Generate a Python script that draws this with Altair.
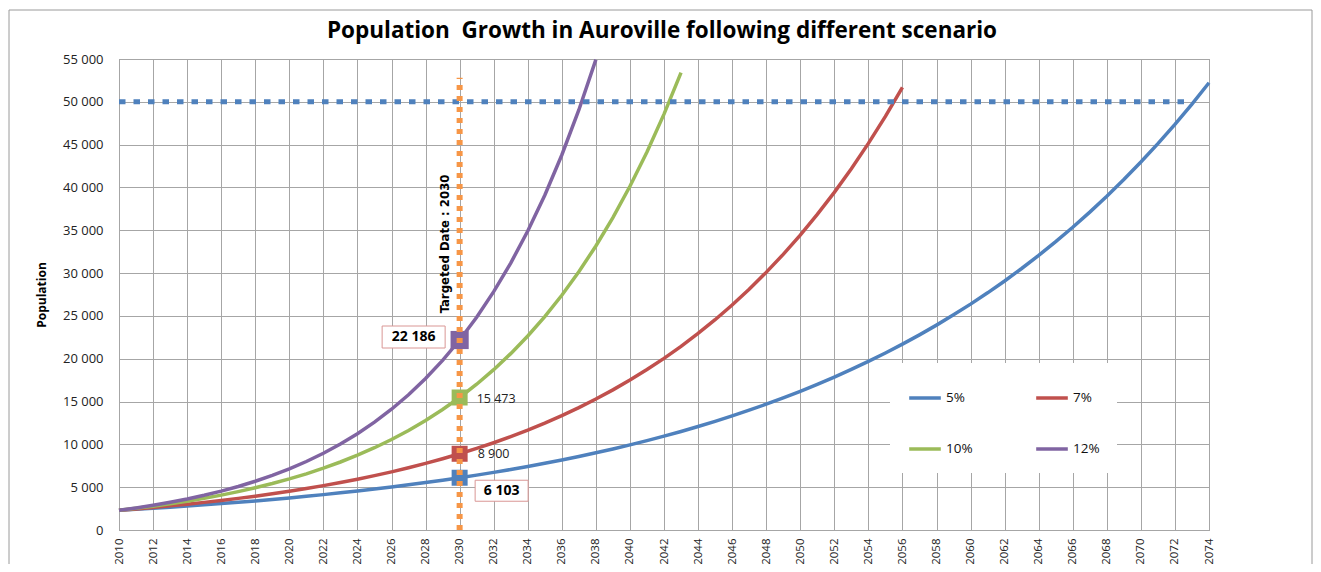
import altair as alt
import pandas as pd

# ---------------- data ----------------
series_names = ["5%", "7%", "10%", "12%"]
series_colors = ["#4F81BD", "#C0504D", "#9BBB59", "#8064A2"]
legend_order = ["5%", "10%", "7%", "12%"]  # column-major fill -> rows 5%/7%, 10%/12%

years_5 = list(range(2010, 2075))
pop_5 = [2300, 2415, 2536, 2663, 2796, 2935, 3082, 3236, 3398, 3568,
         3746, 3934, 4130, 4337, 4554, 4781, 5021, 5272, 5535, 5812,
         6103, 6408, 6728, 7065, 7418, 7789, 8178, 8587, 9017, 9468,
         9941, 10438, 10960, 11508, 12084, 12688, 13322, 13988, 14688, 15422,
         16193, 17003, 17853, 18746, 19683, 20667, 21701, 22786, 23925, 25121,
         26377, 27696, 29081, 30535, 32062, 33665, 35348, 37116, 38971, 40920,
         42966, 45114, 47370, 49739, 52226]

years_7 = list(range(2010, 2057))
pop_7 = [2300, 2461, 2633, 2818, 3015, 3226, 3452, 3693, 3952, 4228,
         4524, 4841, 5180, 5542, 5930, 6346, 6790, 7265, 7774, 8318,
         8900, 9523, 10190, 10903, 11666, 12483, 13357, 14292, 15292, 16362,
         17508, 18733, 20045, 21448, 22949, 24555, 26274, 28113, 30081, 32187,
         34440, 36851, 39430, 42190, 45144, 48304, 51685]

years_10 = list(range(2010, 2044))
pop_10 = [2300, 2530, 2783, 3061, 3367, 3704, 4075, 4482, 4930, 5423,
          5966, 6562, 7219, 7941, 8735, 9608, 10569, 11626, 12789, 14068,
          15473, 17021, 18723, 20595, 22655, 24920, 27412, 30153, 33169, 36486,
          40134, 44148, 48563, 53419]

years_12 = list(range(2010, 2039))
pop_12 = [2300, 2576, 2885, 3231, 3619, 4053, 4540, 5085, 5695, 6378,
          7143, 8001, 8961, 10036, 11240, 12589, 14100, 15792, 17687, 19810,
          22186, 24849, 27831, 31170, 34911, 39100, 43792, 49047, 54933]

target_year = 2030
target_pop = 50000
target_line_start_year = 2010
target_line_end_year = 2073
target_line_top = 52800
target_label = "Targeted Date : 2030"
target_label_pop = 33400

x_ticks = list(range(2010, 2075, 2))
y_ticks = list(range(0, 55001, 5000))

title_text = "Population\u00a0 Growth in Auroville following different scenario"

# ---------------- tables ----------------
rows = []
for name, ys, ps in [("5%", years_5, pop_5), ("7%", years_7, pop_7),
                     ("10%", years_10, pop_10), ("12%", years_12, pop_12)]:
    for yr, p in zip(ys, ps):
        rows.append({"year": yr, "pop": p, "series": name})
df = pd.DataFrame(rows)

idx = target_year - 2010
marker_df = pd.DataFrame({
    "year": [target_year] * 4,
    "pop": [pop_5[idx], pop_7[idx], pop_10[idx], pop_12[idx]],
    "series": series_names,
})

color_scale = alt.Scale(domain=series_names, range=series_colors)
label_expr = "replace(format(datum.pop, ','), ',', ' ')"

FONT = "Open Sans"
GRID = "#a6a6a6"

x_scale = alt.Scale(domain=[2010, 2074], nice=False, zero=False)
y_scale = alt.Scale(domain=[0, 55000], nice=False)
x_axis = alt.Axis(values=x_ticks, format="d", labelAngle=270, title=None,
                  ticks=False, domain=False, labelPadding=8,
                  labelFontSize=11.5, labelFont=FONT, labelColor="#222222",
                  labelFlush=False, labelOverlap=False,
                  gridColor=GRID, gridWidth=1, tickCount=33)
y_axis = alt.Axis(values=y_ticks,
                  labelExpr="replace(format(datum.value, ','), ',', ' ')",
                  title="Population", titleFont=FONT, titleFontSize=12,
                  titleFontWeight="bold", titleColor="black", titlePadding=14,
                  ticks=False, domain=False, labelPadding=16,
                  labelFontSize=13, labelFont=FONT, labelColor="#222222",
                  gridColor=GRID, gridWidth=1)


def X(field="year"):
    return alt.X(f"{field}:Q", scale=x_scale, axis=x_axis)


def Y(field="pop"):
    return alt.Y(f"{field}:Q", scale=y_scale, axis=y_axis)


one = alt.InlineData(values=[{"k": 1}])

# frame around the whole chart (decoration)
frame = alt.Chart(one).mark_rect(
    filled=False, stroke="#9a9a9a", strokeWidth=1
).encode(x=alt.value(-110), x2=alt.value(1193), y=alt.value(-49), y2=alt.value(600))

title = alt.Chart(one).mark_text(
    text=title_text, font=FONT, fontSize=22.5, fontWeight="bold", color="black",
    align="center", baseline="middle"
).encode(x=alt.value(543), y=alt.value(-28))

lines = alt.Chart(df).mark_line(strokeWidth=3.5).encode(
    x=X(), y=Y(),
    color=alt.Color("series:N", scale=color_scale,
                    legend=alt.Legend(title=None, orient="none", legendX=771, legendY=304,
                                      columns=2, values=legend_order,
                                      symbolType="stroke", symbolStrokeWidth=3.5,
                                      symbolSize=1000, labelFontSize=13.5, labelFont=FONT,
                                      labelColor="#111111", labelOffset=3,
                                      fillColor="white", padding=17,
                                      columnPadding=56, rowPadding=26)),
)

hline = alt.Chart(pd.DataFrame({"year": [target_line_start_year],
                                "year2": [target_line_end_year],
                                "pop": [target_pop]})).mark_rule(
    color="#4F81BD", strokeWidth=5, strokeDash=[6.5, 8], strokeCap="butt"
).encode(x=X(), x2="year2:Q", y=Y())

markers = alt.Chart(marker_df).mark_point(shape="square", filled=True, opacity=1).encode(
    x=X(), y=Y(),
    color=alt.Color("series:N", scale=color_scale, legend=None),
    size=alt.condition(alt.datum.series == "12%", alt.value(330), alt.value(256)),
)


def boxed(series_pop, dx, dy, w, h):
    d = pd.DataFrame({"year": [target_year], "pop": [series_pop]})
    box = alt.Chart(d).mark_rect(width=w, height=h, xOffset=dx, yOffset=dy,
                                 fill="white", stroke="#d99694", strokeWidth=1).encode(
        x=X(), y=Y())
    txt = alt.Chart(d).transform_calculate(label=label_expr).mark_text(
        font=FONT, fontSize=14, fontWeight="bold", color="black",
        xOffset=dx, yOffset=dy, align="center", baseline="middle").encode(
        x=X(), y=Y(), text="label:N")
    return [box, txt]


def plain(series_pop, dx, dy):
    d = pd.DataFrame({"year": [target_year], "pop": [series_pop]})
    return alt.Chart(d).transform_calculate(label=label_expr).mark_text(
        font=FONT, fontSize=12.5, color="#222222",
        xOffset=dx, yOffset=dy, align="left", baseline="middle").encode(
        x=X(), y=Y(), text="label:N")


ann = []
ann += boxed(pop_12[idx], -46, -3, 63, 22)
ann += boxed(pop_5[idx], 42, 13, 53, 21)
ann.append(plain(pop_10[idx], 17, 1.5))
ann.append(plain(pop_7[idx], 18, 0.5))

vline = alt.Chart(pd.DataFrame({"year": [target_year], "pop": [0],
                                "pop2": [target_line_top]})).mark_rule(
    color="#F79646", strokeWidth=6, strokeDash=[5, 6], strokeCap="butt"
).encode(x=X(), y=Y(), y2="pop2:Q")

target_txt = alt.Chart(pd.DataFrame({"year": [target_year], "pop": [target_label_pop],
                                     "t": [target_label]})).mark_text(
    angle=270, font="DejaVu Sans Condensed, Roboto Condensed, Roboto, sans-serif",
    fontSize=13, fontWeight="bold",
    color="black", xOffset=-14.5, align="center", baseline="middle"
).encode(x=X(), y=Y(), text="t:N")

chart = alt.layer(frame, title, lines, markers, *ann, hline, vline, target_txt).properties(
    width=1090, height=471,
    autosize=alt.AutoSizeParams(type="none"),
    padding={"left": 111, "top": 51, "right": 104, "bottom": 34},
    background="white",
).configure_view(stroke="#8c8c8c", strokeWidth=1)

chart.save("out.html", embed_options={"renderer": "svg", "actions": False})
